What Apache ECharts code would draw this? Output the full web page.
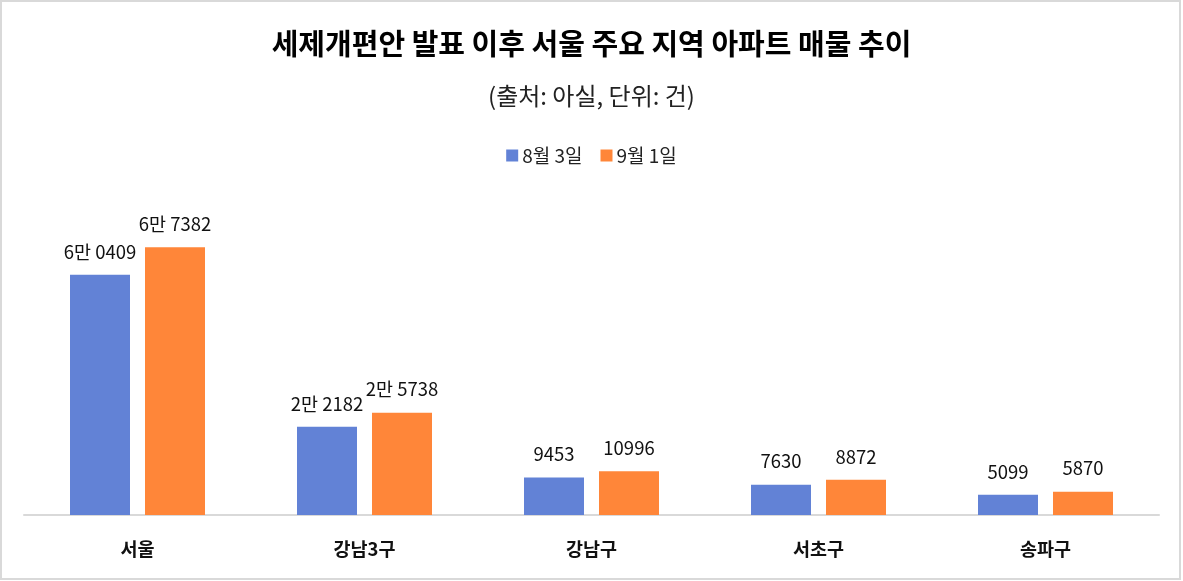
<!DOCTYPE html>
<html>
<head>
<meta charset="utf-8">
<script src="https://cdn.jsdelivr.net/npm/echarts@6/dist/echarts.min.js"></script>
<style>
  html, body { margin: 0; padding: 0; background: #fff; }
  #chart { width: 1183px; height: 581px; }
</style>
</head>
<body>
<div id="chart"></div>
<script>
var categories = ['서울', '강남3구', '강남구', '서초구', '송파구'];
var seriesNames = ['8월 3일', '9월 1일'];
var aug3 = [60409, 22182, 9453, 7630, 5099];
var sep1 = [67382, 25738, 10996, 8872, 5870];
var aug3Labels = ['6만 0409', '2만 2182', '9453', '7630', '5099'];
var sep1Labels = ['6만 7382', '2만 5738', '10996', '8872', '5870'];

var font = '"Noto Sans CJK KR", "Noto Sans", sans-serif';

function labelFor(list) {
    return function (p) { return list[p.dataIndex]; };
}

var option = {
    animation: false,
    textStyle: { fontFamily: font },
    title: [{
        text: '세제개편안 발표 이후 서울 주요 지역 아파트 매물 추이',
        left: 'center',
        top: 24,
        textStyle: { fontSize: 29, fontWeight: 'bold', color: '#000', fontFamily: font }
    }, {
        text: '(출처: 아실, 단위: 건)',
        left: 'center',
        top: 79,
        textStyle: { fontSize: 24, fontWeight: 'normal', color: '#222', fontFamily: font }
    }],
    legend: {
        data: seriesNames,
        top: 141,
        left: 'center',
        icon: 'rect',
        itemWidth: 12,
        itemHeight: 12,
        itemGap: 18,
        textStyle: { fontSize: 19, color: '#222', fontFamily: font, padding: [0, 0, 0, -1] }
    },
    graphic: [{
        type: 'rect',
        shape: { x: 1, y: 1, width: 1179, height: 578 },
        style: { fill: 'none', stroke: '#d9d9d9', lineWidth: 2 },
        silent: true
    }],
    grid: {
        left: 24,
        right: 24,
        top: 197,
        bottom: 66
    },
    xAxis: {
        type: 'category',
        data: categories,
        axisLine: { lineStyle: { color: '#d9d9d9', width: 2 } },
        axisTick: { show: false },
        axisLabel: {
            margin: 25,
            fontSize: 18.5,
            fontWeight: 'bold',
            color: '#111',
            fontFamily: font
        }
    },
    yAxis: {
        type: 'value',
        min: 0,
        max: 80000,
        show: false,
        splitLine: { show: false }
    },
    series: [{
        name: seriesNames[0],
        type: 'bar',
        data: aug3,
        barWidth: 60,
        barGap: '25%',
        itemStyle: { color: '#6282d6' },
        label: {
            show: true,
            position: 'top',
            distance: 14,
            fontSize: 18.5,
            color: '#111',
            fontFamily: font,
            formatter: labelFor(aug3Labels)
        }
    }, {
        name: seriesNames[1],
        type: 'bar',
        data: sep1,
        barWidth: 60,
        itemStyle: { color: '#ff8639' },
        label: {
            show: true,
            position: 'top',
            distance: 14,
            fontSize: 18.5,
            color: '#111',
            fontFamily: font,
            formatter: labelFor(sep1Labels)
        }
    }]
};

var myChart = echarts.init(document.getElementById('chart'));
myChart.setOption(option);
</script>
</body>
</html>
